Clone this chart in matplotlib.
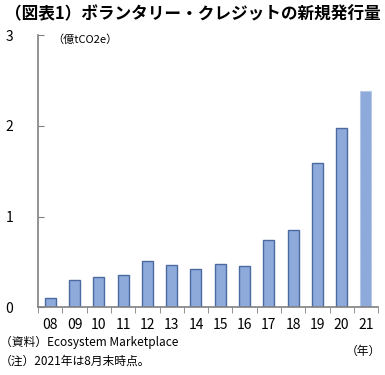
import matplotlib
matplotlib.use("Agg")
import matplotlib.pyplot as plt
import numpy as np

plt.rcParams['font.family'] = ['Noto Sans CJK JP', 'DejaVu Sans']

years = ["08", "09", "10", "11", "12", "13", "14", "15", "16", "17", "18", "19", "20", "21"]
volume = [0.10, 0.30, 0.33, 0.36, 0.51, 0.47, 0.42, 0.48, 0.45, 0.74, 0.85, 1.59, 1.98, 2.38]

fig = plt.figure(figsize=(3.85, 3.75), dpi=100)
ax = fig.add_axes([0.099, 0.181, 0.883, 0.725])

x = np.arange(len(years))
ax.bar(x[:-1], volume[:-1], width=0.45, color="#8eaadb", edgecolor="#4a6aa0", linewidth=1.0)
# 2021 is partial-year: dotted outline
ax.bar(x[-1:], volume[-1:], width=0.45, color="#8eaadb", edgecolor="#a9bde3",
       linewidth=0.8, linestyle=(0, (1, 1)))

ax.set_xlim(-0.5, len(years) - 0.5)
ax.set_ylim(0, 3)
ax.set_yticks([0, 1, 2, 3])
ax.set_xticks(x)
ax.set_xticklabels(years, fontsize=10)
ax.set_xticks(np.arange(-0.5, len(years)), minor=True)
ax.tick_params(axis='x', which='major', length=0, pad=8)
ax.tick_params(axis='x', which='minor', length=4, direction='out', color="#808080")
ax.tick_params(axis='y', length=4, direction='in', color="#808080", labelsize=10, pad=18)

for s in ['top', 'right']:
    ax.spines[s].set_visible(False)
for s in ['left', 'bottom']:
    ax.spines[s].set_color("#808080")
    ax.spines[s].set_linewidth(1.2)

fig.text(0.5, 0.962, "（図表1）ボランタリー・クレジットの新規発行量", ha='center', va='center',
         fontsize=12, fontweight='bold')
fig.text(0.135, 0.893, "（億tCO2e）", ha='left', va='center', fontsize=8)
fig.text(0.0, 0.088, "（資料）Ecosystem Marketplace", ha='left', va='center', fontsize=8.5)
fig.text(0.0, 0.038, "（注）2021年は8月末時点。", ha='left', va='center', fontsize=8.5)
fig.text(0.99, 0.063, "（年）", ha='right', va='center', fontsize=8.5)

fig.savefig("out.png", dpi=100)
